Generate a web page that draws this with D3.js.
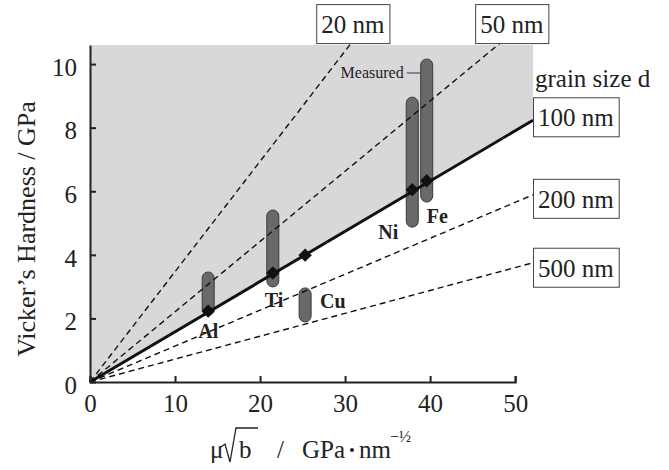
<!DOCTYPE html>
<html>
<head>
<meta charset="utf-8">
<script src="https://cdn.jsdelivr.net/npm/d3@7"></script>
<style>
  body { margin: 0; background: #fff; }
  text { font-family: "Liberation Serif", "Times New Roman", serif; fill: #222; }
</style>
</head>
<body>
<svg id="chart" width="669" height="470"></svg>
<script>
// Hall-Petch type lines, one per grain size (slope in GPa per unit of mu*sqrt(b))
const grainSizes = ["20 nm", "50 nm", "100 nm", "200 nm", "500 nm"];
const slopes = [0.347, 0.221, 0.158, 0.113, 0.072];

// metals: mu*sqrt(b), predicted hardness (on 100 nm line), measured range
const metals = ["Al", "Ti", "Cu", "Ni", "Fe"];
const muRootB = [13.9, 21.5, 25.3, 37.9, 39.6];
const predicted = [2.23, 3.43, 3.99, 6.05, 6.33];
const measuredLow = [2.1, 2.99, 1.89, 4.87, 5.66];
const measuredHigh = [3.46, 5.41, 2.96, 8.96, 10.16];

const xTicks = [0, 10, 20, 30, 40, 50];
const yTicks = [0, 2, 4, 6, 8, 10];

const xMax = 52.1, yMax = 10.6, lineTop = 10.66;

const svg = d3.select("#chart");

const x = d3.scaleLinear().domain([0, xMax]).range([90, 533]);
const y = d3.scaleLinear().domain([0, yMax]).range([382, 45]);

// gray region above the 100 nm line
const refSlope = slopes[grainSizes.indexOf("100 nm")];
svg.append("path")
  .attr("d", d3.line()([[0, 0], [xMax, refSlope * xMax], [xMax, yMax], [0, yMax]]
    .map(p => [x(p[0]), y(p[1])])) + "Z")
  .attr("fill", "#d8d8da");

// measured ranges
svg.selectAll(".bar")
  .data(metals)
  .enter().append("rect")
  .attr("class", "bar")
  .attr("x", (d, i) => x(muRootB[i]) - 6)
  .attr("width", 12)
  .attr("y", (d, i) => y(measuredHigh[i]))
  .attr("height", (d, i) => y(measuredLow[i]) - y(measuredHigh[i]))
  .attr("rx", 6)
  .attr("fill", "#69696b")
  .attr("stroke", "#3a3a3a")
  .attr("stroke-width", 1);

// grain size lines
const lineEnds = slopes.map(s => {
  const xe = Math.min(xMax, lineTop / s);
  return [xe, s * xe];
});

svg.selectAll(".gline")
  .data(grainSizes)
  .enter().append("line")
  .attr("class", "gline")
  .attr("x1", x(0)).attr("y1", y(0))
  .attr("x2", (d, i) => x(lineEnds[i][0]))
  .attr("y2", (d, i) => y(lineEnds[i][1]))
  .attr("stroke", "#111")
  .attr("stroke-width", d => d === "100 nm" ? 3 : 1.4)
  .attr("stroke-dasharray", d => d === "100 nm" ? null : "6,4");

// predicted points
svg.selectAll(".pt")
  .data(metals)
  .enter().append("path")
  .attr("class", "pt")
  .attr("d", d3.symbol(d3.symbolSquare, 90))
  .attr("transform", (d, i) => `translate(${x(muRootB[i])},${y(predicted[i])}) rotate(45)`)
  .attr("fill", "#111");

// metal labels
const metalOffset = { Al: [-10, 27], Ti: [-8, 34], Cu: [15, 53], Ni: [-34, 49], Fe: [0, 42] };
svg.selectAll(".mlabel")
  .data(metals)
  .enter().append("text")
  .attr("class", "mlabel")
  .attr("x", (d, i) => x(muRootB[i]) + metalOffset[d][0])
  .attr("y", (d, i) => y(predicted[i]) + metalOffset[d][1])
  .attr("font-size", 20)
  .attr("font-weight", "bold")
  .text(d => d);

// "Measured" leader
const feIdx = metals.indexOf("Fe");
const feLeft = x(muRootB[feIdx]) - 6;
svg.append("line")
  .attr("x1", feLeft - 14).attr("x2", feLeft)
  .attr("y1", 73).attr("y2", 73)
  .attr("stroke", "#333").attr("stroke-width", 1);
svg.append("text")
  .attr("x", feLeft - 17).attr("y", 78)
  .attr("text-anchor", "end")
  .attr("font-size", 16)
  .attr("fill", "#333")
  .text("Measured");

// grain size boxes
const boxOffset = {
  "20 nm": [-35, -39], "50 nm": [-25, -39],
  "100 nm": [0, -23], "200 nm": [0, -16], "500 nm": [0, -15]
};
grainSizes.forEach((g, i) => {
  const gx = x(lineEnds[i][0]) + boxOffset[g][0];
  const gy = y(lineEnds[i][1]) + boxOffset[g][1];
  const grp = svg.append("g").attr("transform", `translate(${gx},${gy})`);
  const rect = grp.append("rect").attr("fill", "#fff").attr("stroke", "#444").attr("stroke-width", 1);
  const t = grp.append("text").attr("x", 5).attr("y", 29).attr("font-size", 25).text(g);
  const w = t.node().getComputedTextLength();
  rect.attr("x", 0.5).attr("y", 0.5).attr("width", w + 10).attr("height", 39);
});

svg.append("text")
  .attr("x", 535).attr("y", 87)
  .attr("font-size", 25)
  .text("grain size d");

// axes
const xAxis = svg.append("g")
  .attr("transform", `translate(0,${y(0)})`)
  .call(d3.axisBottom(x.copy().domain([0, 50]).range([x(0), x(50)]))
    .tickValues(xTicks).tickSizeInner(-6).tickSizeOuter(-6).tickPadding(12));
const yAxis = svg.append("g")
  .attr("transform", `translate(${x(0)},0)`)
  .call(d3.axisLeft(y).tickValues(yTicks).tickSizeInner(-6).tickSizeOuter(0).tickPadding(13));

[xAxis, yAxis].forEach(a => {
  a.select(".domain").attr("stroke", "#222").attr("stroke-width", 2);
  a.selectAll(".tick line").attr("stroke", "#222").attr("stroke-width", 2);
  a.selectAll(".tick text").attr("font-size", 25).attr("fill", "#222")
    .style("font-family", "'Liberation Serif','Times New Roman',serif");
});
yAxis.selectAll(".tick text").attr("dy", "0.45em");

// axis titles
svg.append("text")
  .attr("transform", "translate(35,229) rotate(-90)")
  .attr("text-anchor", "middle")
  .attr("font-size", 26)
  .text("Vicker\u2019s Hardness / GPa");

const xl = svg.append("g");
xl.append("text").attr("x", 210).attr("y", 458).attr("font-size", 25).text("\u03bc");
xl.append("path")
  .attr("d", "M221,447 L225,444 L230,462 L236,428 L258,428")
  .attr("fill", "none").attr("stroke", "#222").attr("stroke-width", 1.3);
xl.append("text").attr("x", 239).attr("y", 458).attr("font-size", 25).text("b");
xl.append("text").attr("x", 277).attr("y", 458).attr("font-size", 25).text("/");
xl.append("text").attr("x", 302).attr("y", 458).attr("font-size", 25).text("GPa");
xl.append("circle").attr("cx", 352).attr("cy", 450).attr("r", 2).attr("fill", "#222");
xl.append("text").attr("x", 359).attr("y", 458).attr("font-size", 25).text("nm");
xl.append("text").attr("x", 390).attr("y", 442).attr("font-size", 16).text("\u2212\u00bd");
</script>
</body>
</html>
